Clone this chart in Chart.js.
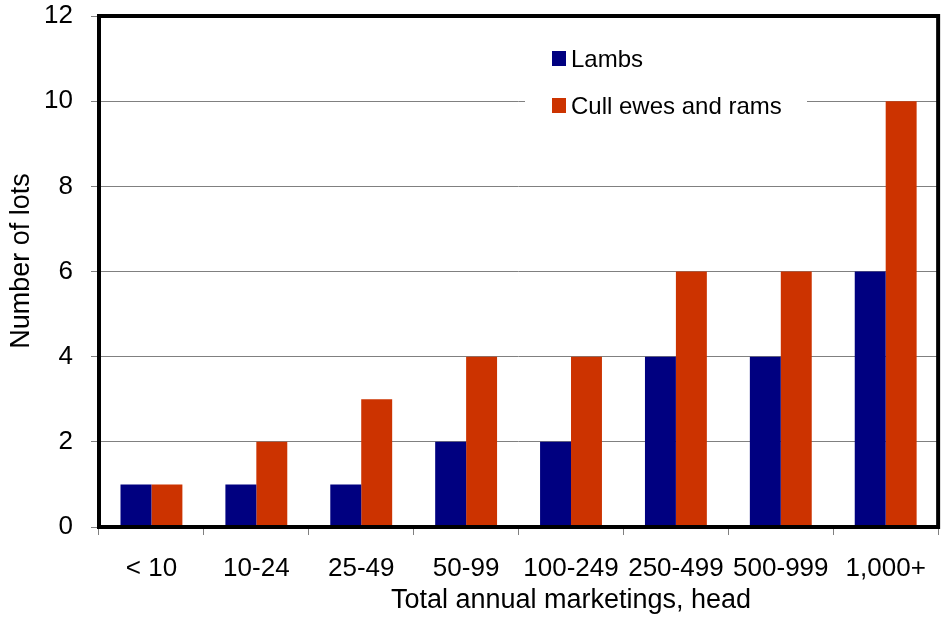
<!DOCTYPE html>
<html>
<head>
<meta charset="utf-8">
<script src="https://cdn.jsdelivr.net/npm/chart.js@4"></script>
<style>
html,body{margin:0;padding:0;background:#fff;}
#wrap{width:944px;height:620px;position:relative;}
</style>
</head>
<body>
<div id="wrap"><canvas id="c" width="944" height="620"></canvas></div>
<script>
const categories = ["< 10", "10-24", "25-49", "50-99", "100-249", "250-499", "500-999", "1,000+"];
const lambs = [1, 1, 1, 2, 2, 4, 4, 6];
const cullEwesAndRams = [1, 2, 3, 4, 4, 6, 6, 10];
const yTicks = [0, 2, 4, 6, 8, 10, 12];
const seriesNames = ["Lambs", "Cull ewes and rams"];
const seriesColors = ["#000080", "#CC3300"];
const xTitle = "Total annual marketings, head";
const yTitle = "Number of lots";

const FONT = "'Liberation Sans', Arial, sans-serif";

const framePlugin = {
  id: 'frame',
  beforeDatasetsDraw(chart) {
    const ctx = chart.ctx;
    ctx.save();
    ctx.fillStyle = '#fff';
    ctx.fillRect(525, 36, 282, 88);
    ctx.restore();
  },
  afterDatasetsDraw(chart) {
    const ctx = chart.ctx;
    const a = chart.chartArea;
    ctx.save();
    ctx.font = '24px ' + FONT;
    ctx.textBaseline = 'middle';
    ctx.textAlign = 'left';
    const rows = [59, 106];
    chart.data.datasets.forEach((ds, i) => {
      ctx.fillStyle = ds.backgroundColor;
      ctx.fillRect(552, rows[i] - 8, 14, 15);
      ctx.fillStyle = '#000';
      ctx.fillText(ds.label, 571, rows[i] + 1);
    });
    ctx.strokeStyle = '#000';
    ctx.lineWidth = 4;
    ctx.strokeRect(a.left, a.top, a.right - a.left, a.bottom - a.top);
    ctx.font = '27px ' + FONT;
    ctx.fillStyle = '#000';
    ctx.textAlign = 'center';
    ctx.textBaseline = 'middle';
    ctx.fillText(xTitle, 571, 601);
    ctx.translate(22, 261);
    ctx.rotate(-Math.PI / 2);
    ctx.fillText(yTitle, 0, 0);
    ctx.restore();
  }
};

new Chart(document.getElementById('c'), {
  type: 'bar',
  data: {
    labels: categories,
    datasets: [
      { label: seriesNames[0], data: lambs, backgroundColor: seriesColors[0], borderWidth: 0 },
      { label: seriesNames[1], data: cullEwesAndRams, backgroundColor: seriesColors[1], borderWidth: 0 }
    ]
  },
  options: {
    responsive: false,
    animation: false,
    devicePixelRatio: 1,
    layout: { padding: { top: 16, right: 3, bottom: 0, left: 0 } },
    datasets: { bar: { categoryPercentage: 0.59, barPercentage: 1.0 } },
    plugins: {
      legend: { display: false },
      tooltip: { enabled: false }
    },
    scales: {
      x: {
        afterFit(scale) { scale.height = 93; },
        grid: { offset: true, drawOnChartArea: false, drawTicks: true, tickLength: 8, color: '#808080' },
        border: { display: false },
        ticks: { color: '#000', font: { family: FONT, size: 26 }, padding: 18, maxRotation: 0, autoSkip: false },
        title: { display: false }
      },
      y: {
        min: 0, max: 12,
        afterBuildTicks(scale) { scale.ticks = yTicks.map(v => ({ value: v })); },
        afterFit(scale) { scale.width = 99; scale.paddingTop = 0; scale.paddingBottom = 0; },
        grid: { color: '#808080', lineWidth: 1, drawTicks: true, tickLength: 8 },
        border: { display: false },
        ticks: { color: '#000', font: { family: FONT, size: 26 }, padding: 18 },
        title: { display: false }
      }
    }
  },
  plugins: [framePlugin]
});
</script>
</body>
</html>
